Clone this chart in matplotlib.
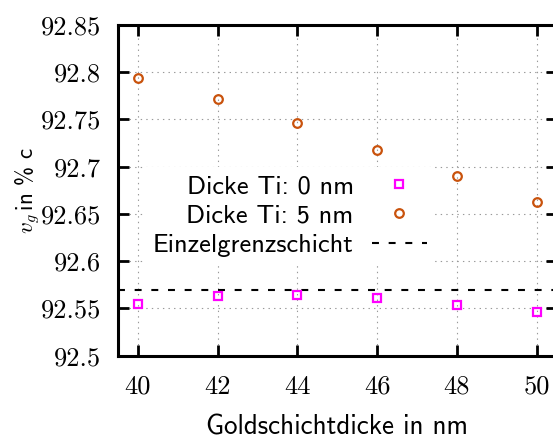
import matplotlib
matplotlib.use("Agg")
import matplotlib.pyplot as plt

plt.rcParams["mathtext.fontset"] = "cm"
plt.rcParams["lines.scale_dashes"] = False
plt.rcParams["axes.formatter.use_mathtext"] = True

# Data
dicke = [40, 42, 44, 46, 48, 50]
ti_0nm = [92.555, 92.5635, 92.564, 92.561, 92.554, 92.546]
ti_5nm = [92.794, 92.772, 92.746, 92.718, 92.690, 92.663]
einzel = 92.570

xticks = [40, 42, 44, 46, 48, 50]
yticks = [92.5, 92.55, 92.6, 92.65, 92.7, 92.75, 92.8, 92.85]
ytick_labels = ["92.5", "92.55", "92.6", "92.65", "92.7", "92.75", "92.8", "92.85"]

W, H = 553, 441
fig = plt.figure(figsize=(W / 100, H / 100), dpi=100)
left, right, top, bottom = 118, 556.6, 25, 355.7
ax = fig.add_axes([left / W, 1 - bottom / H, (right - left) / W, (bottom - top) / H])

ax.plot(dicke, ti_0nm, linestyle="none", marker="s", ms=6, mew=1.6,
        mfc="none", mec="#ff00ff", label="Dicke Ti: 0 nm", zorder=4)
ax.plot(dicke, ti_5nm, linestyle="none", marker="o", ms=6.2, mew=1.6,
        mfc="none", mec="#c9520c", label="Dicke Ti: 5 nm", zorder=4)
ax.axhline(einzel, color="black", lw=1.5, linestyle=(0, (5, 7)),
           label="Einzelgrenzschicht", zorder=3)

ax.set_xlim(39.5, 50.5)
ax.set_ylim(92.5, 92.85)
ax.set_xticks(xticks)
ax.set_xticklabels([str(x) for x in xticks], family="cmr10", fontsize=19)
ax.set_yticks(yticks)
ax.set_yticklabels(ytick_labels, family="cmr10", fontsize=19)

ax.tick_params(direction="in", length=8, width=2, top=True, right=True, pad=12)
ax.tick_params(axis="x", pad=14)
for s in ax.spines.values():
    s.set_linewidth(2.2)

ax.grid(True, linestyle=(0, (1, 3)), color="#999999", lw=0.8)
ax.set_axisbelow(True)

ax.set_xlabel("Goldschichtdicke in nm", family="cmss10", fontsize=19.5, labelpad=11)
ax.set_ylabel(r"$v_g\,$in % c", family="cmss10", fontsize=16.5)
ax.yaxis.set_label_coords(-0.17, 0.50)

leg = ax.legend(loc="upper right", bbox_to_anchor=(0.7228, 0.571),
                markerfirst=False, frameon=True,
                prop={"family": "cmss10", "size": 19},
                handlelength=2.1, handletextpad=0.68, labelspacing=0.22,
                borderpad=0.3, borderaxespad=0, fancybox=False)
leg.get_frame().set_facecolor("white")
leg.get_frame().set_edgecolor("none")
leg.get_frame().set_alpha(1)
leg.set_zorder(5)

fig.savefig("out.png", dpi=100)
